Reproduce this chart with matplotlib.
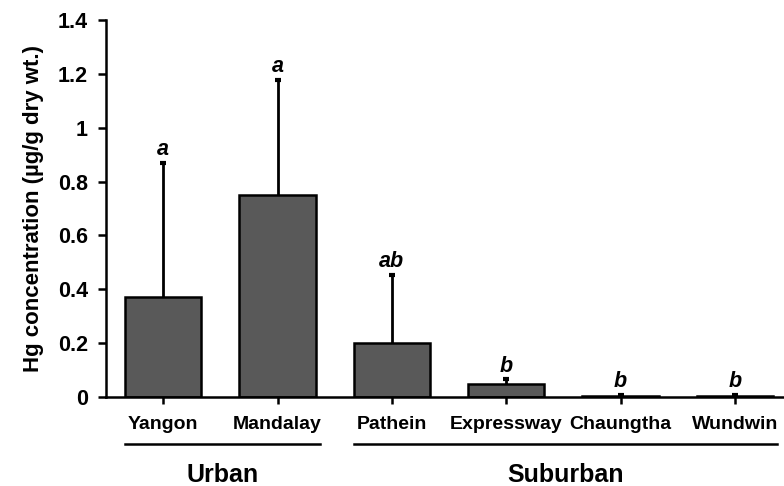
import matplotlib.pyplot as plt

plt.rcParams['font.family'] = ['Liberation Sans', 'DejaVu Sans']
plt.rcParams['font.weight'] = 'bold'

# 数据
sites = ['Yangon', 'Mandalay', 'Pathein', 'Expressway', 'Chaungtha', 'Wundwin']
hg_mean = [0.372, 0.750, 0.199, 0.048, 0.003, 0.003]
hg_sd = [0.498, 0.427, 0.254, 0.018, 0.005, 0.005]
letters = ['a', 'a', 'ab', 'b', 'b', 'b']
groups = ['Urban', 'Suburban']
group_members = [[0, 1], [2, 3, 4, 5]]

fig = plt.figure(figsize=(7.84, 4.86), dpi=100)
ax = fig.add_axes([106 / 784, 1 - 397 / 486, (784 - 106) / 784, 377 / 486])

x = list(range(len(sites)))
ax.bar(x, hg_mean, width=0.67, color='#595959', edgecolor='black', linewidth=1.8, zorder=2)

# 只画上误差线
_, caps, _ = ax.errorbar(x, hg_mean, yerr=[[0] * len(sites), hg_sd], fmt='none',
                         ecolor='black', elinewidth=2, capsize=2, capthick=3, zorder=1)
for cap in caps:
    if list(cap.get_ydata()) == hg_mean:
        cap.remove()

# 显著性字母
for i in x:
    ax.text(i, hg_mean[i] + hg_sd[i] + 0.01, letters[i], ha='center', va='bottom',
            fontsize=15.5, fontweight='bold', style='italic')

ax.set_xlim(-0.5, 5.43)
ax.set_ylim(0, 1.4)
ax.set_yticks([0, 0.2, 0.4, 0.6, 0.8, 1, 1.2, 1.4])
ax.set_yticklabels(['0', '0.2', '0.4', '0.6', '0.8', '1', '1.2', '1.4'])
ax.set_xticks(x)
ax.set_xticklabels(sites)
ax.tick_params(axis='y', labelsize=15.5, width=1.8, length=6, pad=7)
ax.tick_params(axis='x', labelsize=14, width=1.8, length=5, pad=9)
for lab in ax.get_xticklabels() + ax.get_yticklabels():
    lab.set_fontweight('bold')

ax.spines['top'].set_visible(False)
ax.spines['right'].set_visible(False)
ax.spines['left'].set_linewidth(1.8)
ax.spines['bottom'].set_linewidth(1.8)

ax.set_ylabel('Hg concentration (µg/g dry wt.)', fontsize=16, fontweight='bold', labelpad=10)

# 分组线和分组标签
for name, idx in zip(groups, group_members):
    left = idx[0] - 0.335
    right = idx[-1] + 0.37
    ax.plot([left, right], [-0.175, -0.175], color='black', lw=1.8, clip_on=False)
    ax.text((left + right) / 2, -0.29, name, ha='center', va='center',
            fontsize=18, fontweight='bold')

fig.savefig('out.png', dpi=100)
